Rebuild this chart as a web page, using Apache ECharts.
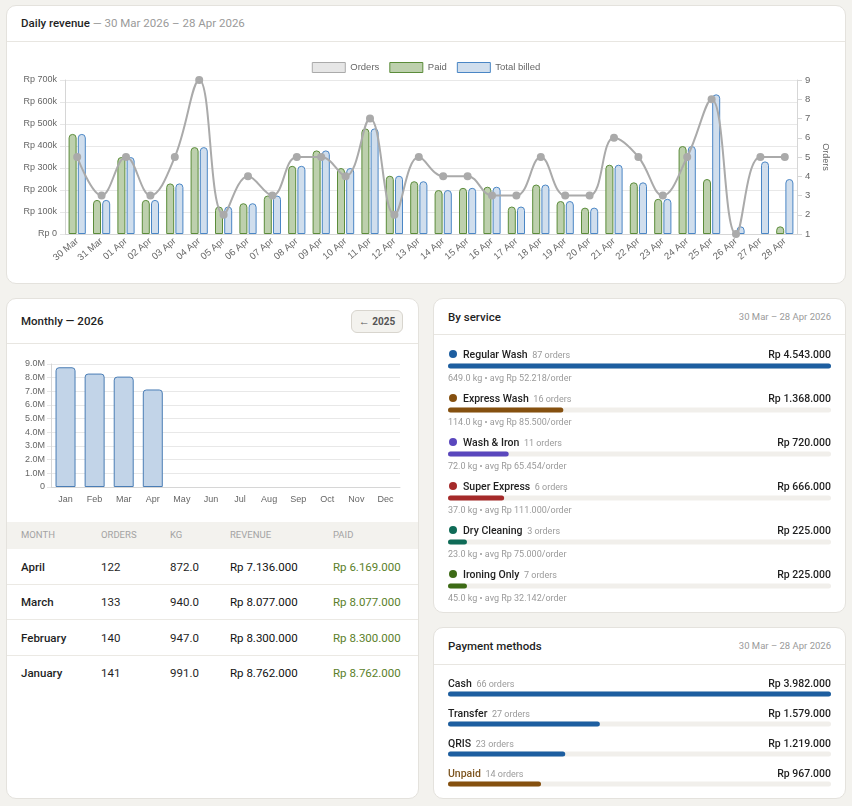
<!DOCTYPE html>
<html><head><meta charset="utf-8">
<script src="https://cdn.jsdelivr.net/npm/echarts@6/dist/echarts.min.js"></script>
<style>
body{margin:0;background:#f3f2ee;font-family:Roboto,"Open Sans",sans-serif;width:852px;height:806px;position:relative;overflow:hidden;color:#1f1f1f}
.card{position:absolute;background:#fff;border:1px solid #e4e2dd;border-radius:10px;box-sizing:border-box}
.sep{position:absolute;height:1px;background:#e8e6e1}
.t{position:absolute;white-space:nowrap;height:16px;line-height:16px}
.chart{position:absolute}
</style></head>
<body>
<div class="card" style="left:6px;top:5px;width:840px;height:279px"></div>
<div class="card" style="left:6px;top:298px;width:413px;height:501px"></div>
<div class="card" style="left:433px;top:298px;width:413px;height:315px"></div>
<div class="card" style="left:433px;top:627px;width:413px;height:172px"></div>
<div class="sep" style="left:7px;width:838px;top:41px"></div>
<div class="sep" style="left:7px;width:411px;top:343px"></div>
<div class="sep" style="left:434px;width:411px;top:334px"></div>
<div class="sep" style="left:434px;width:411px;top:664px"></div>
<div style="position:absolute;left:7px;top:522px;width:411px;height:27px;background:#f3f2ee"></div>
<div style="position:absolute;left:351px;top:310px;width:52px;height:23px;box-sizing:border-box;background:#f3f2ee;border:1px solid #d8d5ce;border-radius:6px;font-size:10px;color:#555;text-align:center;line-height:21px"><span style="font-size:11px">←</span> <b style="font-weight:700">2025</b></div>
<div id="daily" class="chart" style="left:7px;top:42px;width:838px;height:240px"></div>
<div id="monthly" class="chart" style="left:7px;top:344px;width:411px;height:175px"></div>
<div id="svcbars" class="chart" style="left:448px;top:344px;width:383px;height:264px"></div>
<div id="paybars" class="chart" style="left:448px;top:679px;width:383px;height:120px"></div>
<div id="texts"></div>
<script>
// ---------- data ----------
const days = ['30 Mar','31 Mar','01 Apr','02 Apr','03 Apr','04 Apr','05 Apr','06 Apr','07 Apr','08 Apr','09 Apr','10 Apr','11 Apr','12 Apr','13 Apr','14 Apr','15 Apr','16 Apr','17 Apr','18 Apr','19 Apr','20 Apr','21 Apr','22 Apr','23 Apr','24 Apr','25 Apr','26 Apr','27 Apr','28 Apr'];
const paidVals = [455000,155000,350000,155000,230000,395000,125000,140000,175000,310000,380000,300000,480000,265000,240000,200000,210000,215000,125000,225000,150000,120000,315000,235000,160000,400000,250000,null,null,35000];
const billedVals = [455000,155000,350000,155000,230000,395000,125000,140000,175000,310000,380000,300000,480000,265000,240000,200000,210000,215000,125000,225000,150000,120000,315000,235000,160000,400000,635000,35000,330000,250000];
const orderCounts = [5,3,5,3,5,9,2,4,3,5,5,4,7,2,5,4,4,3,3,5,3,3,6,5,3,5,8,1,5,5];

const months = ['Jan','Feb','Mar','Apr','May','Jun','Jul','Aug','Sep','Oct','Nov','Dec'];
const monthlyRevenue = [8762000,8300000,8077000,7136000,null,null,null,null,null,null,null,null];

const tableMonths = ['April','March','February','January'];
const tableOrders = [122,133,140,141];
const tableKg = ['872.0','940.0','947.0','991.0'];
const tableRevenue = [7136000,8077000,8300000,8762000];
const tablePaid = [6169000,8077000,8300000,8762000];

const serviceNames = ['Regular Wash','Express Wash','Wash & Iron','Super Express','Dry Cleaning','Ironing Only'];
const serviceOrders = [87,16,11,6,3,7];
const serviceRevenue = [4543000,1368000,720000,666000,225000,225000];
const serviceKg = ['649.0','114.0','72.0','37.0','23.0','45.0'];
const serviceAvg = ['52.218','85.500','65.454','111.000','75.000','32.142'];
const serviceColors = ['#1d5ea0','#85500f','#5a47bd','#a52a2a','#0f6b57','#3d6b16'];

const payNames = ['Cash','Transfer','QRIS','Unpaid'];
const payOrders = [66,27,23,14];
const payRevenue = [3982000,1579000,1219000,967000];
const payColors = ['#1d5ea0','#1d5ea0','#1d5ea0','#85500f'];

// ---------- helpers ----------
const rp = n => 'Rp ' + String(n).replace(/\B(?=(\d{3})+(?!\d))/g, '.');
const box = document.getElementById('texts');
function t(x, y, html, css, right) {
  const d = document.createElement('div');
  d.className = 't';
  d.innerHTML = html;
  d.style.cssText = (right ? 'right:' + (852 - x) + 'px;' : 'left:' + x + 'px;') + 'top:' + (y - 8) + 'px;' + (css || '');
  box.appendChild(d);
}
const H = 'font-size:11.5px;font-weight:500;color:#1f1f1f;';
const G = 'color:#9a9a9a;font-weight:400;';

// headers
t(21, 23, 'Daily revenue <span style="' + G + '">— 30 Mar 2026 – 28 Apr 2026</span>', H);
t(21, 321, 'Monthly — 2026', H);
t(448, 317, 'By service', H);
t(831, 317, '30 Mar – 28 Apr 2026', 'font-size:9.5px;color:#9a9a9a;', true);
t(448, 646, 'Payment methods', H);
t(831, 646, '30 Mar – 28 Apr 2026', 'font-size:9.5px;color:#9a9a9a;', true);

// table
const colX = [21, 101, 170, 230, 333];
['MONTH','ORDERS','KG','REVENUE','PAID'].forEach((h, i) => t(colX[i], 535, h, 'font-size:9.5px;color:#a3a3a3;'));
tableMonths.forEach((m, i) => {
  const y = 567 + i * 35.3;
  t(colX[0], y, m, 'font-size:11.5px;font-weight:500;');
  t(colX[1], y, tableOrders[i], 'font-size:11.5px;');
  t(colX[2], y, tableKg[i], 'font-size:11.5px;');
  t(colX[3], y, rp(tableRevenue[i]), 'font-size:11.5px;color:#111;');
  t(colX[4], y, rp(tablePaid[i]), 'font-size:11.5px;color:#5b7f2a;');
  if (i < 3) {
    const s = document.createElement('div');
    s.className = 'sep';
    s.style.cssText = 'left:7px;width:411px;top:' + Math.round(584 + i * 35.3) + 'px;background:#ebe9e4';
    box.appendChild(s);
  }
});

// services
serviceNames.forEach((n, i) => {
  const y = 354.5 + i * 44;
  const dot = document.createElement('div');
  dot.style.cssText = 'position:absolute;left:449px;top:' + (y - 4.5) + 'px;width:8px;height:8px;border-radius:50%;background:' + serviceColors[i];
  box.appendChild(dot);
  t(463, y, n + ' <span style="font-size:9px;color:#9a9a9a;font-weight:400;margin-left:2px">' + serviceOrders[i] + ' orders</span>', 'font-size:10.5px;font-weight:500;');
  t(831, y, rp(serviceRevenue[i]), 'font-size:10.5px;font-weight:500;', true);
  t(448, y + 23, serviceKg[i] + ' kg • avg Rp ' + serviceAvg[i] + '/order', 'font-size:9px;color:#9a9a9a;');
});

// payments
payNames.forEach((n, i) => {
  const y = 684 + i * 30;
  t(448, y, n + ' <span style="font-size:9px;color:#9a9a9a;font-weight:400;margin-left:2px">' + payOrders[i] + ' orders</span>', 'font-size:10.5px;font-weight:500;' + (n === 'Unpaid' ? 'color:#7d5520;' : ''));
  t(831, y, rp(payRevenue[i]), 'font-size:10.5px;font-weight:500;', true);
});

// ---------- charts ----------
const AX = 'Liberation Sans, Arial, sans-serif';
const daily = echarts.init(document.getElementById('daily'));
daily.setOption({
  animation: false,
  textStyle: { fontFamily: AX },
  legend: {
    top: 15, left: 'center', icon: 'rect', itemWidth: 33, itemHeight: 10, itemGap: 10,
    textStyle: { fontSize: 9.5, color: '#666', fontFamily: AX },
    data: [
      { name: 'Orders', itemStyle: { color: '#e6e6e6', borderColor: '#aaaaaa', borderWidth: 1 } },
      { name: 'Paid', itemStyle: { color: '#bdd0ad', borderColor: '#5b8c3a', borderWidth: 1 } },
      { name: 'Total billed', itemStyle: { color: '#d0deed', borderColor: '#4a86c5', borderWidth: 1 } }
    ]
  },
  grid: { left: 58, right: 48, top: 38, bottom: 48 },
  xAxis: {
    type: 'category', data: days,
    axisLine: { lineStyle: { color: '#d6d6d6' } },
    axisTick: { show: false },
    axisLabel: { rotate: 40, interval: 0, fontSize: 9.5, color: '#666', margin: 6 }
  },
  yAxis: [
    { type: 'value', min: 0, max: 700000, interval: 100000,
      axisLine: { show: true, lineStyle: { color: '#d6d6d6' } },
      axisTick: { show: true, length: 5, lineStyle: { color: '#e6e6e6' } },
      splitLine: { lineStyle: { color: '#e8e8e8' } },
      axisLabel: { fontSize: 9, color: '#666', margin: 8, formatter: v => v === 0 ? 'Rp 0' : 'Rp ' + (v / 1000) + 'k' } },
    { type: 'value', min: 1, max: 9, interval: 1, position: 'right',
      name: 'Orders', nameLocation: 'middle', nameRotate: -90, nameGap: 21,
      nameTextStyle: { fontSize: 9, color: '#666' },
      axisLine: { show: true, lineStyle: { color: '#d6d6d6' } },
      axisTick: { show: true, length: 5, lineStyle: { color: '#d6d6d6' } },
      splitLine: { show: false },
      axisLabel: { fontSize: 9.5, color: '#666', margin: 8 } }
  ],
  series: [
    { name: 'Paid', type: 'bar', data: paidVals, barWidth: 8, barGap: '15%',
      itemStyle: { color: '#bdd0ad', borderColor: '#5b8c3a', borderWidth: 1, borderRadius: [4, 4, 0, 0] } },
    { name: 'Total billed', type: 'bar', data: billedVals, barWidth: 8,
      itemStyle: { color: '#d0deed', borderColor: '#4a86c5', borderWidth: 1, borderRadius: [4, 4, 0, 0] } },
    { name: 'Orders', type: 'line', yAxisIndex: 1, data: orderCounts, smooth: 0.4, z: 5,
      symbol: 'circle', symbolSize: 8,
      lineStyle: { color: '#aaaaaa', width: 2 }, itemStyle: { color: '#aaaaaa' } }
  ]
});

const monthly = echarts.init(document.getElementById('monthly'));
monthly.setOption({
  animation: false,
  textStyle: { fontFamily: AX },
  grid: { left: 44, right: 18, top: 20, bottom: 32 },
  xAxis: { type: 'category', data: months,
    axisLine: { lineStyle: { color: '#d6d6d6' } }, axisTick: { show: false },
    axisLabel: { fontSize: 9, color: '#666', margin: 8, interval: 0 } },
  yAxis: { type: 'value', min: 0, max: 9000000, interval: 1000000,
    axisLine: { show: true, lineStyle: { color: '#d6d6d6' } },
    axisTick: { show: true, length: 4, lineStyle: { color: '#e6e6e6' } },
    splitLine: { lineStyle: { color: '#e8e8e8' } },
    axisLabel: { fontSize: 9, color: '#666', margin: 6, formatter: v => v === 0 ? '0' : (v / 1e6).toFixed(1) + 'M' } },
  series: [{ type: 'bar', data: monthlyRevenue, barWidth: 20,
    itemStyle: { color: '#c2d4e8', borderColor: '#4a7db5', borderWidth: 1, borderRadius: [3, 3, 0, 0] } }]
});

function progress(id, names, vals, colors) {
  const c = echarts.init(document.getElementById(id));
  c.setOption({
    animation: false,
    grid: { left: 0, right: 0, top: 0, bottom: 0 },
    xAxis: { type: 'value', min: 0, max: Math.max(...vals), show: false },
    yAxis: { type: 'category', data: names, inverse: true, show: false },
    series: [{ type: 'bar', barWidth: 5, showBackground: true,
      backgroundStyle: { color: '#f1efeb', borderRadius: 3 },
      data: vals.map((v, i) => ({ value: v, itemStyle: { color: colors[i], borderRadius: 3 } })) }]
  });
}
progress('svcbars', serviceNames, serviceRevenue, serviceColors);
progress('paybars', payNames, payRevenue, payColors);
</script>
</body></html>
